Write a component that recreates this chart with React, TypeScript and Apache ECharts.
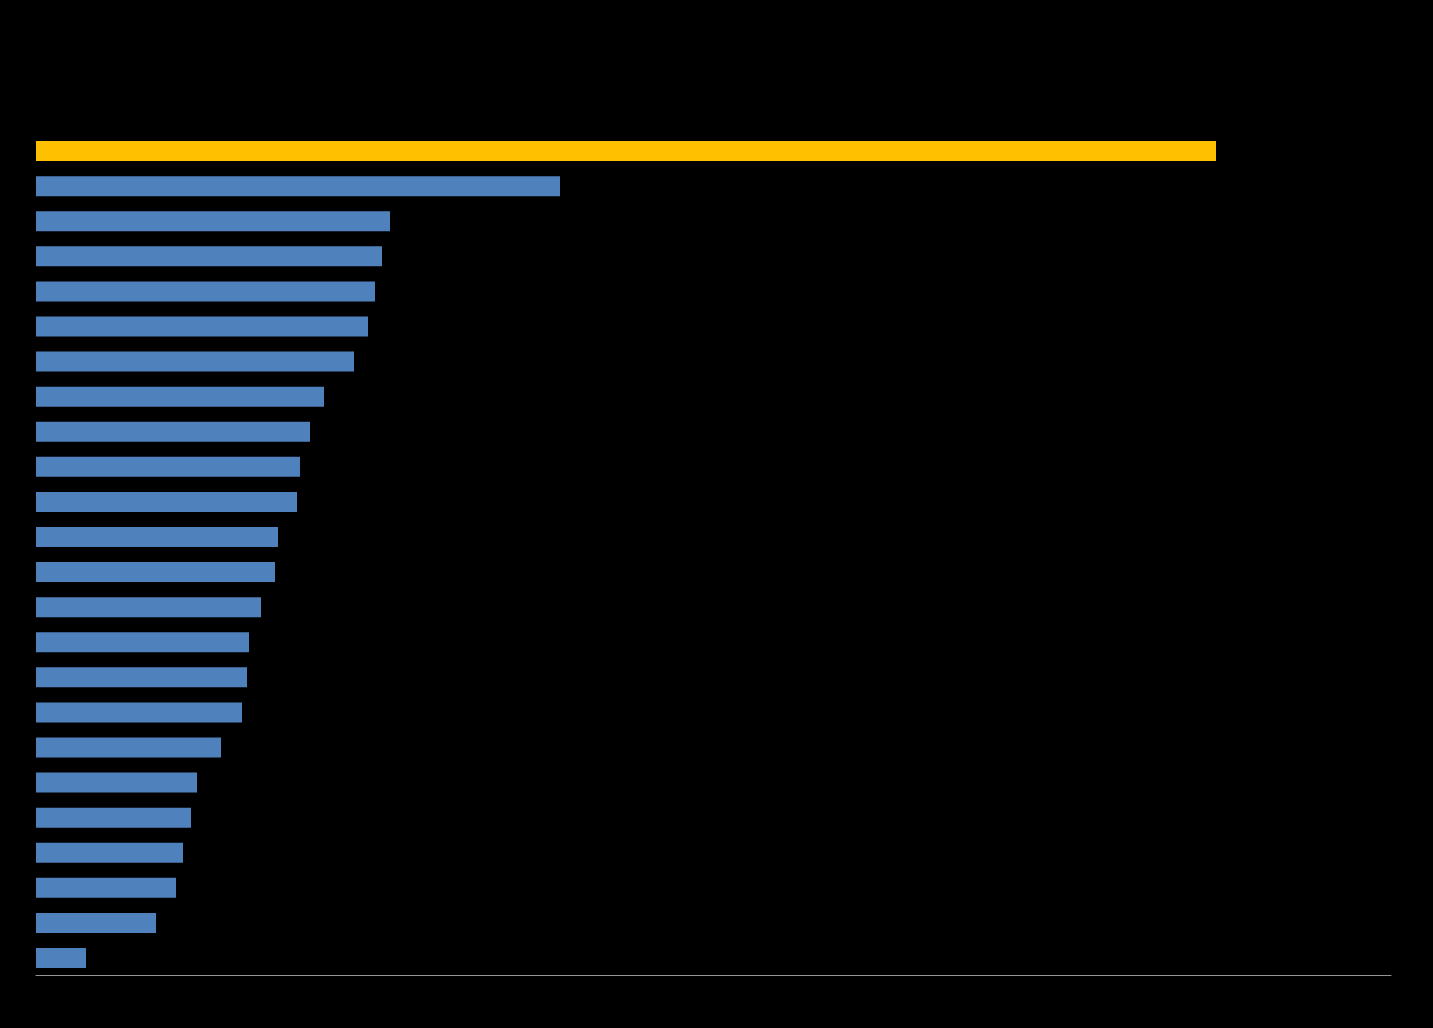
import React, { useEffect, useRef } from "react";
import * as echarts from "echarts";

const categories = [
  "Item 1", "Item 2", "Item 3", "Item 4", "Item 5", "Item 6", "Item 7", "Item 8",
  "Item 9", "Item 10", "Item 11", "Item 12", "Item 13", "Item 14", "Item 15", "Item 16",
  "Item 17", "Item 18", "Item 19", "Item 20", "Item 21", "Item 22", "Item 23", "Item 24",
];

const values = [
  118.0, 52.4, 35.4, 34.6, 33.9, 33.2, 31.8, 28.8, 27.4, 26.4, 26.1, 24.2,
  23.9, 22.5, 21.3, 21.1, 20.6, 18.5, 16.1, 15.5, 14.7, 14.0, 12.0, 5.0,
];

const highlightIndex = 0;
const axisMax = 135.5;

export default function App() {
  const ref = useRef<HTMLDivElement>(null);
  useEffect(() => {
    if (!ref.current) return;
    const chart = echarts.init(ref.current, undefined, { renderer: "svg" });
    chart.setOption({
      animation: false,
      backgroundColor: "#000000",
      grid: { left: 36, top: 133.5, width: 1355, height: 842, containLabel: false },
      xAxis: {
        type: "value",
        min: 0,
        max: axisMax,
        axisLine: { show: true, lineStyle: { color: "#969696", width: 1 } },
        axisTick: { show: false },
        axisLabel: { show: false },
        splitLine: { show: false },
      },
      yAxis: {
        type: "category",
        data: categories,
        inverse: true,
        axisLine: { show: false },
        axisTick: { show: false },
        axisLabel: { show: false },
        splitLine: { show: false },
      },
      series: [
        {
          type: "bar",
          barWidth: 20,
          data: values.map((v, i) => ({
            value: v,
            itemStyle: { color: i === highlightIndex ? "#FFC000" : "#4F81BD" },
          })),
        },
      ],
    });
    return () => chart.dispose();
  }, []);
  return (
    <div
      ref={ref}
      style={{ position: "fixed", left: 0, top: 0, width: 1433, height: 1028, background: "#000" }}
    />
  );
}
